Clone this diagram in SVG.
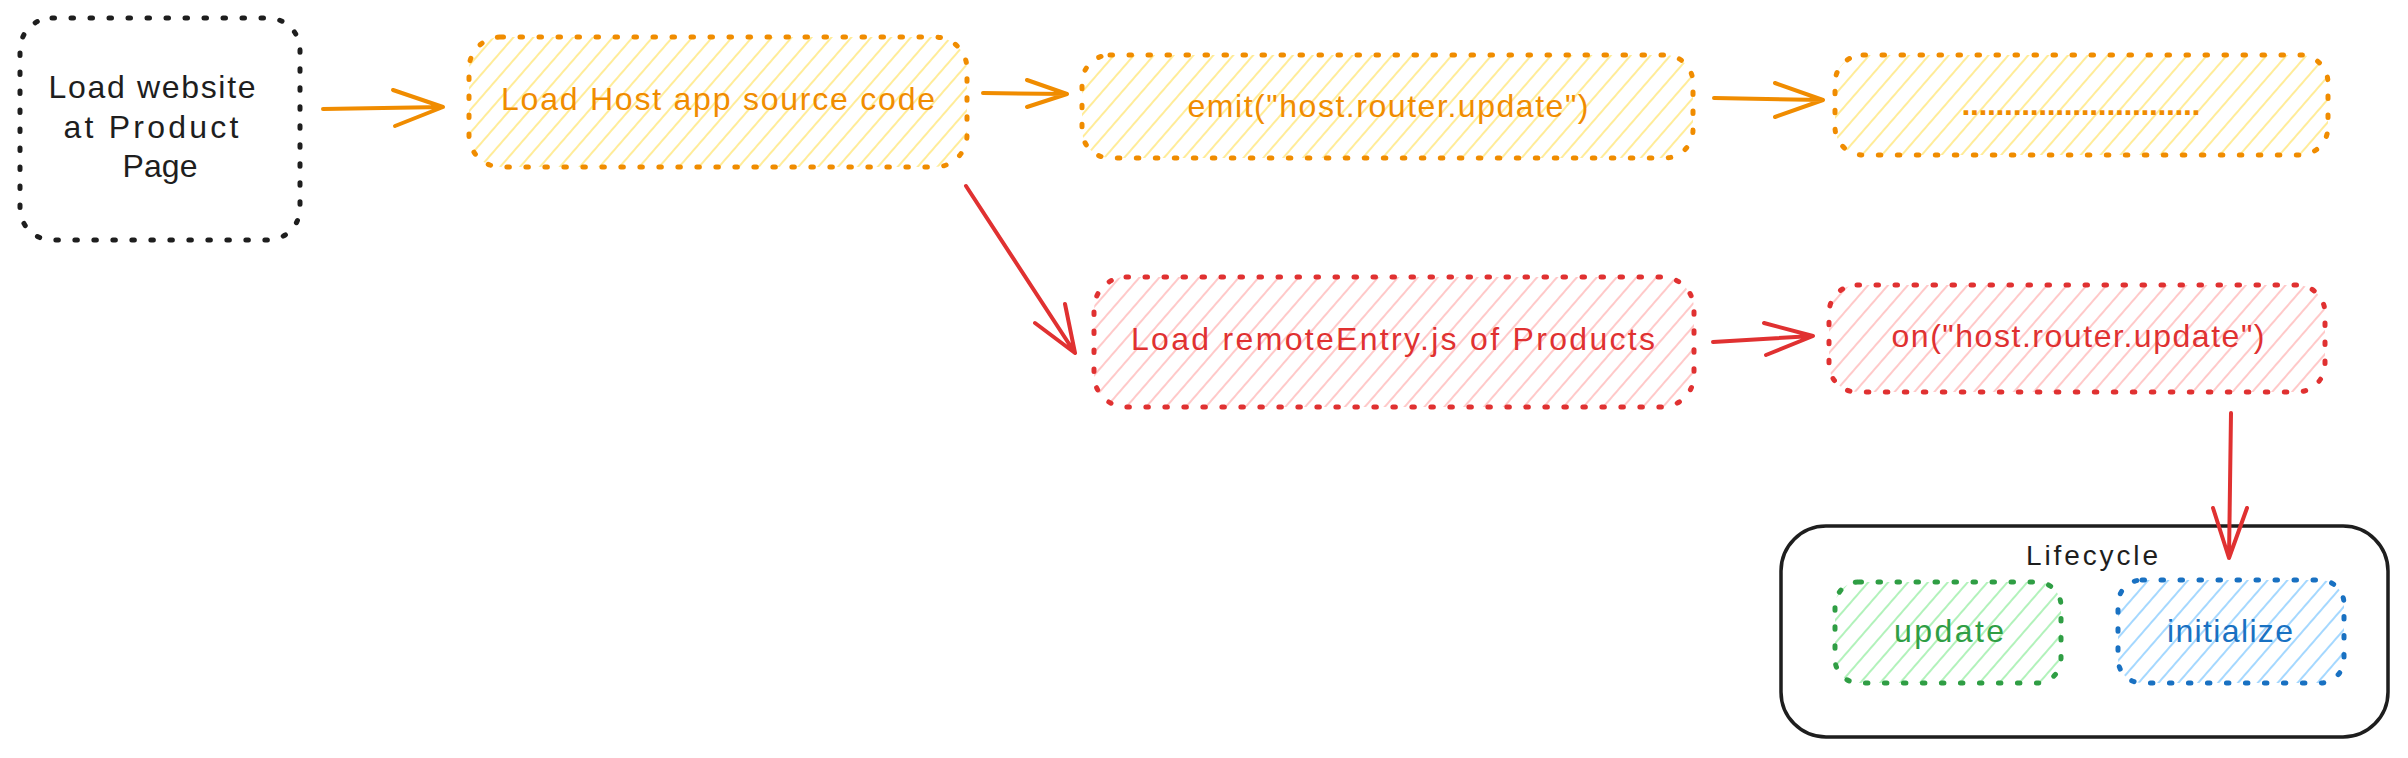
<svg xmlns="http://www.w3.org/2000/svg" width="2408" height="758" viewBox="0 0 2408 758">
<style>
.t{font-family:"Liberation Sans",Arial,sans-serif;font-size:32px;text-anchor:middle}
.box{stroke-width:5;stroke-dasharray:2.5 16.5;stroke-linecap:round}
.or{stroke:#f08c00}.ort{fill:#f08c00}
.rd{stroke:#e03131}.rdt{fill:#e03131}
.gr{stroke:#2f9e44}.grt{fill:#2f9e44}
.bl{stroke:#1971c2}.blt{fill:#1971c2}
.conn path{fill:none;stroke-width:4;stroke-linecap:round;stroke-linejoin:round}
</style>
<defs>
<pattern id="hY" patternUnits="userSpaceOnUse" width="15" height="15" patternTransform="rotate(41)"><line x1="7" y1="-2" x2="7" y2="17" stroke="#ffec99" stroke-width="2"/></pattern>
<pattern id="hR" patternUnits="userSpaceOnUse" width="15" height="15" patternTransform="rotate(41)"><line x1="7" y1="-2" x2="7" y2="17" stroke="#ffc9c9" stroke-width="2"/></pattern>
<pattern id="hG" patternUnits="userSpaceOnUse" width="15" height="15" patternTransform="rotate(41)"><line x1="7" y1="-2" x2="7" y2="17" stroke="#b2f2bb" stroke-width="2"/></pattern>
<pattern id="hB" patternUnits="userSpaceOnUse" width="15" height="15" patternTransform="rotate(41)"><line x1="7" y1="-2" x2="7" y2="17" stroke="#a5d8ff" stroke-width="2"/></pattern>
</defs>
<rect width="2408" height="758" fill="#ffffff"/>

<g id="lifecycle">
<rect x="1781" y="526" width="607" height="211" rx="45" fill="none" stroke="#1e1e1e" stroke-width="3.5"/>
<text class="t" x="2092" y="565" style="font-size:28px" fill="#1e1e1e" textLength="132">Lifecycle</text>
</g>

<g id="load-website">
<rect class="box" x="20" y="18" width="280" height="222" rx="32" fill="none" stroke="#1e1e1e"/>
<text class="t" fill="#1e1e1e"><tspan x="152" y="98" textLength="207">Load website</tspan><tspan x="151" y="138" textLength="175">at Product</tspan><tspan x="160" y="177" textLength="75">Page</tspan></text>
</g>

<g id="load-host">
<rect class="box or" x="469" y="37" width="498" height="130" rx="32" fill="url(#hY)"/>
<text class="t ort" x="718" y="110" textLength="434">Load Host app source code</text>
</g>

<g id="emit">
<rect class="box or" x="1082" y="55" width="611" height="103" rx="28" fill="url(#hY)"/>
<text class="t ort" x="1388" y="117" textLength="401">emit("host.router.update")</text>
</g>

<g id="ellipsis">
<rect class="box or" x="1835" y="55" width="493" height="100" rx="28" fill="url(#hY)"/>
<text class="t ort" x="2081" y="115" font-weight="bold" textLength="239">............................</text>
</g>

<g id="load-remote">
<rect class="box rd" x="1094" y="277" width="600" height="130" rx="32" fill="url(#hR)"/>
<text class="t rdt" x="1393" y="350" textLength="524">Load remoteEntry.js of Products</text>
</g>

<g id="on">
<rect class="box rd" x="1829" y="285" width="496" height="107" rx="28" fill="url(#hR)"/>
<text class="t rdt" x="2078" y="347" textLength="373">on("host.router.update")</text>
</g>

<g id="update">
<rect class="box gr" x="1835" y="582" width="226" height="101" rx="24" fill="url(#hG)"/>
<text class="t grt" x="1949" y="642" textLength="110">update</text>
</g>

<g id="initialize">
<rect class="box bl" x="2118" y="580" width="226" height="103" rx="24" fill="url(#hB)"/>
<text class="t blt" x="2230" y="642" textLength="126">initialize</text>
</g>

<g id="connectors" class="conn">
<path class="or" d="M323,109 L443,107 M393,90 L443,107 L395,126"/>
<path class="or" d="M983,93 L1067,94 M1027,80 L1067,94 L1027,107"/>
<path class="or" d="M1714,98 L1823,100 M1775,83 L1823,100 L1775,117"/>
<path class="rd" d="M966,186 L1075,353 M1035,323 L1075,353 L1065,304"/>
<path class="rd" d="M1713,342 L1813,336 M1764,323 L1813,336 L1766,355"/>
<path class="rd" d="M2231,413 L2229,558 M2213,508 L2229,558 L2247,508"/>
</g>
</svg>
